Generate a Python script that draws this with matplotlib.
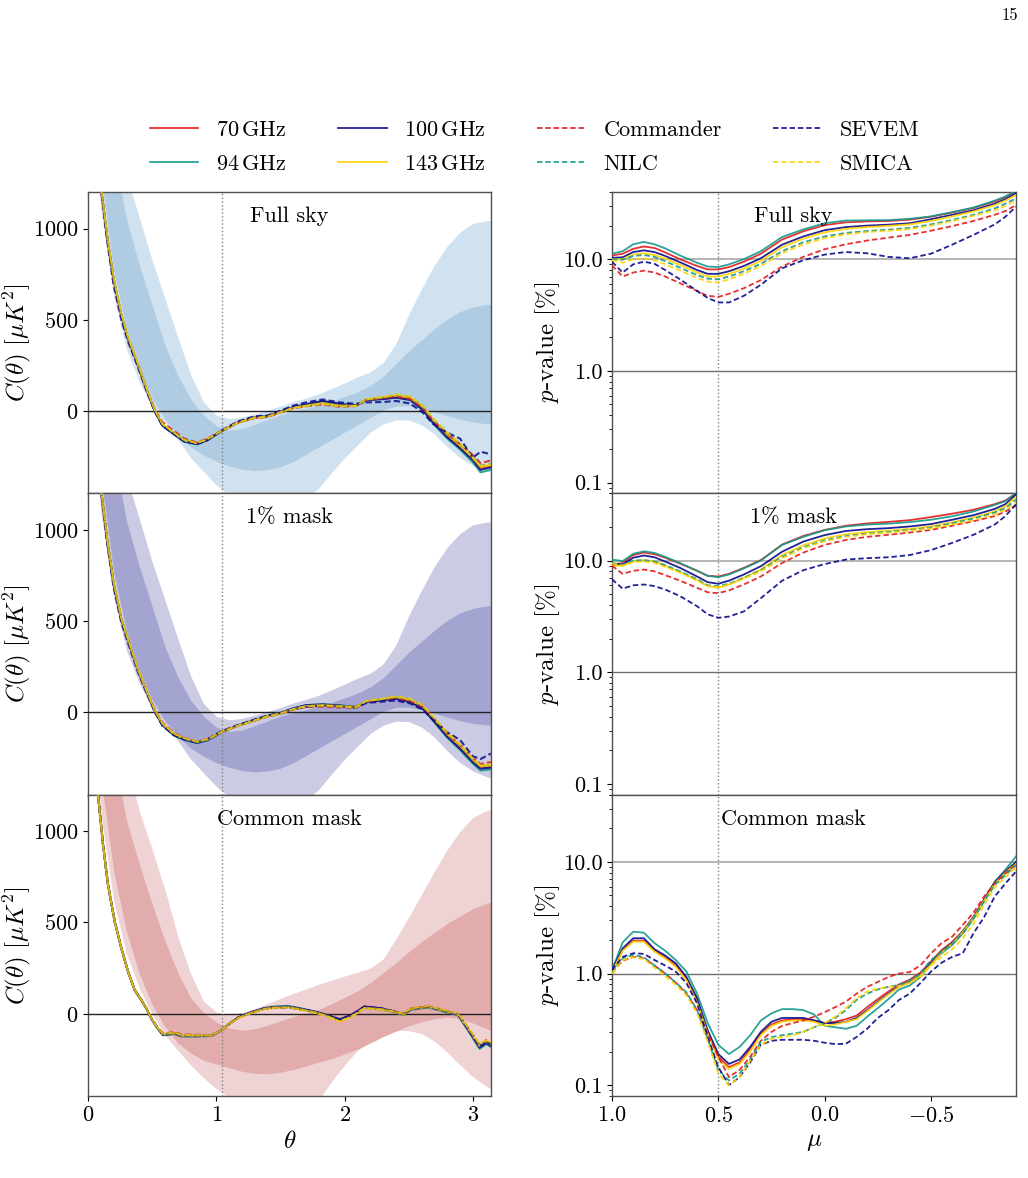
import numpy as np
import matplotlib
matplotlib.use("Agg")
import matplotlib.pyplot as plt
from matplotlib.ticker import FixedLocator, FuncFormatter, NullFormatter, LogLocator

plt.rcParams['font.family'] = ['cmr10', 'DejaVu Serif']
plt.rcParams['mathtext.fontset'] = 'cm'
plt.rcParams['axes.formatter.use_mathtext'] = True
plt.rcParams['font.size'] = 16
plt.rcParams['axes.edgecolor'] = '#505050'
plt.rcParams['axes.linewidth'] = 1.0

# ---------------- labels / styles ----------------
MAPS = ['70', '94', '100', '143', 'Commander', 'NILC', 'SEVEM', 'SMICA']
LABELS = [r'$70\,\mathrm{GHz}$', r'$94\,\mathrm{GHz}$', r'$100\,\mathrm{GHz}$', r'$143\,\mathrm{GHz}$',
          'Commander', 'NILC', 'SEVEM', 'SMICA']
COLORS = ['#e31a1c', '#139a8c', '#0a0a8a', '#ffd200', '#e31a1c', '#139a8c', '#0a0a8a', '#ffd200']
STYLES = ['-', '-', '-', '-', '--', '--', '--', '--']
PANEL_NAMES = ['Full sky', '1% mask', 'Common mask']

# ---------------- theory bands (left) ----------------
TB = [0.0, 0.1, 0.2, 0.3, 0.4, 0.5, 0.6, 0.7, 0.8, 0.9, 1.0, 1.1, 1.2, 1.3, 1.4, 1.5, 1.6, 1.7,
      1.8, 1.9, 2.0, 2.1, 2.2, 2.3, 2.4, 2.5, 2.6, 2.7, 2.8, 2.9, 3.0, 3.1, 3.1416]

FS_OHI = [3000, 2400, 1750, 1290, 1060, 825, 615, 405, 200, 50, -22, -40, -32, -14, 6, 28, 52, 72,
          95, 125, 155, 188, 215, 265, 370, 530, 670, 800, 905, 980, 1028, 1042, 1045]
FS_IHI = [2600, 1900, 1420, 1050, 800, 580, 360, 195, 68, -20, -80, -104, -96, -72, -46, -20, 0, 15,
          35, 55, 80, 105, 140, 190, 260, 330, 390, 450, 505, 545, 570, 583, 585]
FS_ILO = [2100, 1300, 770, 450, 230, 70, -45, -130, -195, -240, -275, -300, -318, -326, -320, -305,
          -275, -235, -195, -155, -115, -75, -35, 5, 28, 30, 15, -5, -25, -45, -60, -68, -70]
FS_OLO = [1900, 1100, 630, 340, 160, 20, -65, -155, -255, -330, -405, -465, -510, -545, -560, -550,
          -520, -480, -420, -335, -255, -185, -115, -70, -48, -48, -75, -125, -195, -255, -297, -320, -326]

M1_OHI = [3000, 2400, 1750, 1290, 1060, 825, 615, 405, 200, 50, -22, -40, -32, -14, 6, 28, 52, 72,
          95, 125, 155, 188, 215, 265, 370, 530, 670, 800, 905, 980, 1028, 1042, 1045]
M1_IHI = [2600, 1900, 1420, 1050, 800, 580, 360, 195, 68, -20, -80, -104, -96, -72, -46, -20, 0, 15,
          35, 55, 80, 105, 140, 190, 260, 330, 390, 450, 505, 545, 570, 583, 585]
M1_ILO = [2100, 1300, 770, 450, 230, 70, -45, -130, -195, -240, -275, -300, -318, -326, -320, -305,
          -275, -235, -195, -155, -115, -75, -35, 5, 28, 30, 15, -5, -25, -45, -60, -68, -70]
M1_OLO = [1900, 1100, 630, 340, 160, 20, -65, -155, -255, -330, -405, -465, -510, -545, -560, -550,
          -520, -480, -420, -335, -255, -185, -115, -70, -48, -50, -80, -135, -210, -275, -320, -350, -360]

CM_OHI = [3000, 2300, 1750, 1380, 1110, 900, 680, 425, 220, 70, 10, -4, 8, 29, 55, 85, 112, 137,
          163, 185, 207, 228, 250, 300, 410, 530, 655, 780, 900, 1000, 1075, 1110, 1120]
CM_IHI = [2600, 1900, 1430, 1060, 820, 600, 400, 225, 88, 8, -45, -78, -90, -82, -62, -38, -15, 5,
          25, 55, 90, 125, 170, 225, 280, 340, 395, 445, 495, 535, 575, 603, 612]
CM_ILO = [2100, 1300, 780, 450, 220, 50, -70, -160, -215, -255, -275, -295, -315, -326, -328, -320,
          -305, -285, -265, -245, -220, -195, -160, -125, -95, -65, -44, -28, -18, -25, -50, -80, -90]
CM_OLO = [1900, 1100, 620, 330, 140, 0, -117, -200, -280, -350, -410, -460, -520, -560, -580, -580,
          -560, -520, -470, -370, -280, -200, -145, -105, -90, -92, -108, -150, -210, -280, -345, -395, -410]

# ---------------- observed C(theta) ----------------
TH = [0.05, 0.10, 0.15, 0.20, 0.26, 0.31, 0.39, 0.45, 0.52, 0.58, 0.67, 0.75, 0.85, 0.93, 1.05, 1.17,
      1.30, 1.40, 1.50, 1.60, 1.70, 1.83, 1.96, 2.09, 2.17, 2.30, 2.40, 2.51, 2.61, 2.69, 2.80, 2.90,
      3.00, 3.06, 3.14]

FS_70 = [1700, 1230, 950, 720, 525, 400, 250, 130, 4, -75, -122, -162, -178, -155, -106, -62, -35, -30,
         -5, 20, 32, 48, 32, 30, 62, 70, 80, 68, 15, -55, -135, -195, -262, -312, -300]
FS_94 = [1700, 1230, 950, 720, 525, 400, 250, 130, 0, -80, -128, -168, -182, -158, -106, -60, -33, -28,
         -2, 22, 36, 52, 36, 30, 62, 68, 76, 62, 5, -68, -150, -210, -280, -335, -322]
FS_100 = [1700, 1230, 950, 720, 525, 400, 250, 130, 2, -78, -125, -165, -180, -160, -106, -62, -35, -28,
          -2, 22, 38, 56, 40, 32, 60, 66, 74, 62, 8, -62, -142, -202, -268, -322, -308]
FS_143 = [1700, 1230, 955, 725, 530, 405, 255, 132, 6, -72, -120, -160, -176, -154, -105, -62, -36, -30,
          -6, 18, 30, 44, 30, 30, 64, 74, 86, 74, 22, -48, -128, -188, -255, -305, -295]
FS_COM = [1700, 1230, 950, 720, 525, 400, 250, 130, 12, -60, -108, -150, -172, -150, -104, -62, -38, -32,
          -8, 16, 26, 36, 24, 28, 62, 72, 80, 66, 18, -50, -125, -180, -240, -285, -270]
FS_NILC = [1700, 1230, 955, 725, 530, 405, 255, 135, 8, -70, -118, -158, -175, -153, -104, -61, -36, -30,
           -6, 18, 28, 40, 26, 28, 64, 76, 90, 80, 28, -42, -120, -178, -250, -298, -288]
FS_SEVEM = [1700, 1220, 930, 690, 500, 385, 240, 122, -2, -80, -125, -165, -180, -158, -102, -56, -28, -24,
            2, 30, 48, 64, 48, 40, 48, 50, 56, 42, -8, -70, -118, -150, -255, -222, -236]
FS_SMICA = [1700, 1235, 958, 728, 532, 408, 258, 135, 8, -70, -118, -158, -175, -153, -104, -62, -36, -30,
            -6, 18, 28, 40, 26, 28, 65, 78, 92, 82, 30, -40, -118, -176, -255, -300, -290]

M1_70 = [1700, 1230, 940, 705, 509, 400, 230, 125, 10, -65, -121, -145, -164, -150, -105, -72, -42, -20,
         -5, 20, 37, 42, 37, 30, 60, 70, 79, 62, 28, -35, -125, -190, -265, -300, -297]
M1_94 = [1700, 1230, 940, 705, 509, 400, 230, 125, 6, -70, -126, -150, -168, -152, -105, -70, -40, -18,
         -2, 23, 40, 45, 39, 30, 60, 68, 76, 58, 20, -45, -138, -205, -280, -318, -312]
M1_100 = [1700, 1230, 940, 705, 509, 400, 230, 125, 8, -68, -124, -148, -166, -152, -105, -72, -42, -20,
          -4, 22, 40, 44, 38, 30, 58, 67, 75, 58, 22, -42, -132, -198, -272, -308, -302]
M1_143 = [1700, 1232, 945, 710, 512, 402, 233, 127, 12, -63, -119, -143, -162, -148, -104, -72, -43, -21,
          -6, 18, 35, 40, 35, 30, 62, 73, 84, 68, 34, -28, -118, -182, -258, -295, -290]
M1_COM = [1700, 1230, 940, 705, 509, 400, 232, 128, 16, -56, -112, -138, -160, -146, -104, -72, -44, -22,
          -8, 16, 30, 32, 28, 26, 60, 72, 80, 62, 30, -30, -115, -178, -250, -282, -272]
M1_NILC = [1700, 1232, 945, 710, 512, 402, 233, 128, 12, -62, -118, -142, -161, -147, -104, -72, -43, -21,
           -6, 18, 33, 38, 33, 28, 62, 74, 86, 72, 38, -24, -112, -178, -255, -292, -285]
M1_SEVEM = [1700, 1220, 925, 685, 492, 385, 220, 118, 4, -72, -124, -145, -163, -146, -100, -68, -38, -17,
            -3, 18, 30, 38, 33, 27, 52, 60, 66, 50, 15, -40, -108, -150, -240, -255, -225]
M1_SMICA = [1700, 1235, 948, 712, 514, 404, 235, 130, 14, -60, -116, -140, -160, -146, -104, -72, -43, -21,
            -6, 18, 33, 38, 33, 28, 63, 76, 88, 75, 40, -22, -110, -175, -252, -290, -283]

TH_CM = [0.04, 0.078, 0.117, 0.156, 0.208, 0.26, 0.312, 0.364, 0.416, 0.455, 0.494, 0.546, 0.585, 0.675,
         0.727, 0.831, 0.961, 1.04, 1.09, 1.17, 1.273, 1.377, 1.455, 1.559, 1.637, 1.767, 1.871, 1.962,
         2.052, 2.156, 2.286, 2.39, 2.455, 2.52, 2.65, 2.754, 2.884, 2.962, 3.053, 3.105, 3.1416]

CM_70 = [1700, 1201, 926, 707, 505, 359, 231, 130, 75, 29, -26, -81, -114, -108, -121, -121, -121, -90,
         -62, -22, 7, 29, 35, 38, 29, 11, -11, -35, -11, 35, 26, 11, -4, 26, 38, 20, -4, -81, -181, -154, -172]
CM_94 = [1700, 1201, 926, 707, 505, 359, 231, 130, 75, 29, -28, -85, -118, -110, -124, -124, -122, -90,
         -62, -20, 9, 32, 40, 43, 33, 13, -10, -33, -11, 33, 24, 9, -7, 22, 34, 16, -8, -90, -192, -166, -182]
CM_100 = [1700, 1201, 926, 707, 505, 359, 231, 130, 75, 29, -27, -83, -116, -109, -122, -122, -121, -90,
          -61, -20, 9, 31, 37, 40, 31, 12, -8, -30, -6, 40, 30, 13, -3, 26, 38, 20, -5, -86, -185, -160, -176]
CM_143 = [1700, 1201, 926, 707, 505, 359, 231, 130, 75, 29, -26, -81, -113, -107, -120, -120, -120, -90,
          -62, -23, 5, 27, 33, 36, 27, 8, -14, -40, -15, 33, 24, 10, -5, 26, 38, 20, -4, -80, -176, -150, -168]
CM_COM = [1700, 1201, 926, 707, 505, 359, 231, 130, 75, 30, -24, -78, -108, -100, -113, -115, -117, -88,
          -60, -21, 7, 29, 35, 37, 28, 11, -11, -34, -10, 35, 27, 13, 0, 30, 42, 24, 0, -76, -170, -143, -160]
CM_NILC = [1700, 1201, 926, 707, 505, 359, 231, 130, 75, 30, -25, -80, -111, -104, -117, -118, -119, -89,
           -61, -22, 6, 28, 34, 37, 28, 10, -12, -36, -12, 34, 26, 12, -2, 28, 40, 22, -2, -78, -172, -146, -163]
CM_SEVEM = [1700, 1201, 926, 707, 505, 359, 231, 130, 75, 29, -26, -81, -112, -105, -118, -118, -119, -89,
            -61, -21, 7, 29, 34, 35, 27, 10, -9, -32, -8, 40, 30, 12, -3, 27, 39, 21, -3, -80, -178, -150, -166]
CM_SMICA = [1700, 1201, 926, 707, 505, 359, 231, 130, 75, 30, -25, -80, -110, -103, -116, -117, -118, -89,
            -61, -23, 5, 27, 33, 35, 26, 8, -14, -42, -16, 32, 25, 12, 0, 30, 42, 24, 1, -74, -168, -140, -158]

# ---------------- p-values (right) ----------------
MU_S = [1.0, 0.95, 0.9, 0.85, 0.8, 0.75, 0.68, 0.6, 0.55, 0.5, 0.45, 0.38, 0.3, 0.2, 0.1, 0.0, -0.1,
        -0.2, -0.3, -0.4, -0.5, -0.6, -0.7, -0.8, -0.85, -0.9]

PF_70 = [10.8, 11.2, 12.4, 13.0, 12.6, 11.5, 10.0, 8.7, 8.1, 8.1, 8.5, 9.5, 11.2, 15.0, 17.8, 20.2, 21.4,
         21.8, 22.0, 22.6, 24.0, 26.2, 28.8, 33.0, 36.0, 40.5]
PF_94 = [11.2, 11.8, 13.6, 14.3, 13.6, 12.5, 10.8, 9.3, 8.6, 8.5, 9.0, 10.0, 11.8, 15.8, 18.5, 21.0, 22.2,
         22.3, 22.4, 23.0, 24.2, 26.4, 29.0, 33.5, 36.5, 41.0]
PF_100 = [10.3, 10.4, 11.6, 12.0, 11.6, 10.7, 9.4, 8.0, 7.4, 7.4, 7.8, 8.7, 10.2, 13.5, 16.0, 18.2, 19.4,
          20.0, 20.4, 21.0, 22.8, 25.0, 27.5, 31.5, 34.5, 39.0]
PF_143 = [10.0, 10.0, 11.0, 11.3, 10.9, 10.1, 8.9, 7.6, 7.0, 7.0, 7.4, 8.2, 9.7, 12.8, 15.3, 17.4, 18.7,
          19.4, 19.9, 20.5, 22.0, 24.2, 26.8, 30.5, 33.5, 37.5]
PF_COM = [8.8, 7.0, 7.6, 7.9, 7.6, 7.0, 6.1, 5.2, 4.7, 4.6, 4.9, 5.5, 6.5, 8.6, 10.5, 12.3, 13.6, 14.7,
          15.6, 16.5, 18.0, 19.8, 22.0, 25.0, 27.0, 30.5]
PF_NILC = [10.0, 9.9, 10.7, 10.9, 10.5, 9.6, 8.4, 7.2, 6.7, 6.6, 7.0, 7.8, 9.1, 11.8, 14.2, 16.0, 17.2,
           17.9, 18.4, 19.1, 20.5, 22.5, 25.0, 28.5, 31.5, 35.0]
PF_SEVEM = [9.5, 7.6, 9.0, 9.5, 9.1, 8.0, 6.6, 5.2, 4.5, 4.1, 4.1, 4.7, 5.9, 8.3, 9.8, 11.0, 11.6, 11.3,
            10.5, 10.2, 11.2, 13.5, 16.5, 20.5, 24.0, 29.5]
PF_SMICA = [9.8, 9.3, 10.0, 10.2, 9.8, 9.0, 7.9, 6.8, 6.3, 6.2, 6.6, 7.4, 8.7, 11.3, 13.6, 15.4, 16.7,
            17.5, 18.0, 18.6, 20.0, 22.0, 24.5, 27.5, 30.0, 33.5]

P1_70 = [9.2, 9.5, 11.2, 11.8, 11.4, 10.6, 9.4, 8.1, 7.3, 7.2, 7.6, 8.6, 10.1, 13.9, 16.6, 18.8, 20.5,
         21.5, 22.2, 23.0, 24.5, 26.3, 28.5, 32.0, 34.5, 40.0]
P1_94 = [10.2, 9.9, 11.5, 12.1, 11.7, 10.8, 9.5, 8.1, 7.3, 7.1, 7.5, 8.5, 10.0, 13.8, 16.3, 18.7, 20.2,
         21.0, 21.4, 22.1, 23.2, 24.9, 27.5, 31.5, 34.0, 40.0]
P1_100 = [9.3, 9.2, 10.6, 11.1, 10.7, 9.8, 8.6, 7.2, 6.4, 6.2, 6.6, 7.5, 8.9, 12.0, 14.8, 16.9, 18.4,
          19.1, 19.5, 20.2, 21.2, 23.2, 25.5, 29.0, 32.0, 39.0]
P1_143 = [9.0, 9.0, 9.8, 10.1, 9.8, 9.0, 7.9, 6.7, 5.9, 5.7, 6.1, 7.0, 8.3, 11.2, 13.7, 15.8, 17.2, 18.0,
          18.5, 19.2, 20.2, 22.0, 24.3, 27.5, 30.5, 37.0]
P1_COM = [9.0, 7.6, 8.1, 8.3, 8.0, 7.4, 6.6, 5.7, 5.2, 5.1, 5.4, 6.1, 7.2, 9.5, 11.8, 13.8, 15.3, 16.3,
          17.0, 17.8, 18.8, 20.5, 22.5, 25.0, 27.5, 31.0]
P1_NILC = [9.5, 9.2, 10.0, 10.1, 9.8, 9.1, 8.0, 6.8, 6.0, 5.9, 6.2, 7.0, 8.2, 10.8, 13.2, 15.2, 16.6, 17.5,
           18.1, 18.8, 19.8, 21.6, 23.8, 27.0, 29.5, 35.0]
P1_SEVEM = [6.8, 5.6, 6.0, 6.1, 5.9, 5.5, 4.8, 3.9, 3.3, 3.07, 3.15, 3.5, 4.6, 6.6, 8.2, 9.3, 10.2, 10.5,
            10.7, 11.2, 12.4, 14.4, 17.0, 21.0, 25.0, 32.0]
P1_SMICA = [9.4, 9.0, 9.7, 9.8, 9.5, 8.8, 7.8, 6.6, 5.9, 5.8, 6.1, 6.9, 8.0, 10.5, 12.9, 14.9, 16.3, 17.2,
            17.8, 18.5, 19.4, 21.0, 23.0, 26.0, 28.5, 33.0]

MU_C = [1.0, 0.95, 0.9, 0.85, 0.8, 0.75, 0.7, 0.65, 0.6, 0.55, 0.5, 0.45, 0.4, 0.35, 0.3, 0.25, 0.2,
        0.15, 0.1, 0.05, 0.0, -0.05, -0.1, -0.15, -0.2, -0.25, -0.3, -0.35, -0.4, -0.45, -0.5, -0.55,
        -0.6, -0.65, -0.7, -0.75, -0.8, -0.85, -0.9]

PC_70 = [1.05, 1.62, 1.97, 1.97, 1.6, 1.4, 1.18, 0.9, 0.57, 0.3, 0.18, 0.145, 0.16, 0.21, 0.29, 0.35, 0.38,
         0.39, 0.39, 0.38, 0.36, 0.37, 0.39, 0.42, 0.5, 0.59, 0.69, 0.8, 0.88, 1.02, 1.28, 1.62, 1.92, 2.4,
         3.2, 4.6, 6.5, 8.0, 9.8]
PC_94 = [1.07, 1.9, 2.37, 2.32, 1.87, 1.6, 1.32, 1.04, 0.66, 0.36, 0.23, 0.19, 0.22, 0.28, 0.38, 0.44, 0.48,
         0.48, 0.47, 0.43, 0.34, 0.33, 0.32, 0.34, 0.41, 0.49, 0.59, 0.72, 0.78, 0.93, 1.23, 1.52, 1.80, 2.29,
         3.1, 4.5, 6.6, 8.5, 11.2]
PC_100 = [1.07, 1.68, 2.07, 2.07, 1.65, 1.45, 1.23, 0.93, 0.6, 0.31, 0.19, 0.155, 0.17, 0.22, 0.30, 0.37,
          0.40, 0.40, 0.40, 0.38, 0.36, 0.36, 0.37, 0.40, 0.47, 0.56, 0.66, 0.77, 0.84, 0.97, 1.23, 1.57, 1.87,
          2.37, 3.2, 4.6, 6.6, 8.2, 10.0]
PC_143 = [1.03, 1.6, 1.93, 1.93, 1.57, 1.37, 1.15, 0.87, 0.55, 0.29, 0.17, 0.14, 0.155, 0.2, 0.28, 0.34,
          0.37, 0.38, 0.38, 0.37, 0.34, 0.35, 0.37, 0.39, 0.46, 0.55, 0.65, 0.76, 0.83, 0.96, 1.2, 1.55, 1.85,
          2.35, 3.15, 4.5, 6.4, 8.0, 9.6]
PC_COM = [1.02, 1.3, 1.41, 1.37, 1.18, 1.0, 0.83, 0.66, 0.47, 0.29, 0.18, 0.118, 0.137, 0.18, 0.25, 0.3,
          0.34, 0.36, 0.38, 0.41, 0.45, 0.5, 0.56, 0.66, 0.76, 0.84, 0.93, 1.0, 1.03, 1.18, 1.51, 1.87, 2.14,
          2.73, 3.5, 4.9, 6.4, 7.9, 9.4]
PC_NILC = [1.0, 1.37, 1.47, 1.4, 1.18, 1.0, 0.83, 0.68, 0.47, 0.26, 0.137, 0.11, 0.127, 0.17, 0.245, 0.27,
           0.28, 0.29, 0.3, 0.33, 0.36, 0.4, 0.47, 0.58, 0.66, 0.72, 0.76, 0.79, 0.87, 1.0, 1.32, 1.57, 1.84,
           2.29, 3.1, 4.4, 6.2, 7.6, 9.4]
PC_SEVEM = [1.07, 1.41, 1.52, 1.5, 1.32, 1.18, 1.04, 0.82, 0.54, 0.27, 0.145, 0.1, 0.118, 0.16, 0.23, 0.25,
            0.255, 0.255, 0.255, 0.25, 0.24, 0.233, 0.235, 0.27, 0.32, 0.4, 0.47, 0.58, 0.66, 0.82, 1.04,
            1.25, 1.41, 1.52, 2.29, 3.2, 4.9, 6.4, 8.2]
PC_SMICA = [1.0, 1.32, 1.4, 1.35, 1.13, 0.95, 0.79, 0.64, 0.44, 0.245, 0.127, 0.1, 0.118, 0.165, 0.23, 0.26,
            0.27, 0.28, 0.3, 0.33, 0.36, 0.41, 0.49, 0.6, 0.69, 0.73, 0.76, 0.77, 0.82, 0.93, 1.18, 1.41,
            1.65, 2.07, 2.8, 4.1, 5.9, 7.3, 8.9]

LEFT_PANELS = [
    (TH, [FS_70, FS_94, FS_100, FS_143, FS_COM, FS_NILC, FS_SEVEM, FS_SMICA],
     (FS_OLO, FS_OHI, FS_ILO, FS_IHI), ('#d0e2f0', '#afcce3')),
    (TH, [M1_70, M1_94, M1_100, M1_143, M1_COM, M1_NILC, M1_SEVEM, M1_SMICA],
     (M1_OLO, M1_OHI, M1_ILO, M1_IHI), ('#cbcce3', '#a3a4d0')),
    (TH_CM, [CM_70, CM_94, CM_100, CM_143, CM_COM, CM_NILC, CM_SEVEM, CM_SMICA],
     (CM_OLO, CM_OHI, CM_ILO, CM_IHI), ('#efd3d4', '#e2acad')),
]
RIGHT_PANELS = [
    (MU_S, [PF_70, PF_94, PF_100, PF_143, PF_COM, PF_NILC, PF_SEVEM, PF_SMICA]),
    (MU_S, [P1_70, P1_94, P1_100, P1_143, P1_COM, P1_NILC, P1_SEVEM, P1_SMICA]),
    (MU_C, [PC_70, PC_94, PC_100, PC_143, PC_COM, PC_NILC, PC_SEVEM, PC_SMICA]),
]

# ---------------- figure ----------------
W, H = 1028, 1178
fig = plt.figure(figsize=(W / 100, H / 100), dpi=100)
row_h = 301.33 / H
tops_px = [192, 192 + 301.33, 192 + 2 * 301.33]

handles = []
for r in range(3):
    bottom = 1 - (tops_px[r] + 301.33) / H
    axl = fig.add_axes([88 / W, bottom, 403 / W, row_h])
    axr = fig.add_axes([612 / W, bottom, 404 / W, row_h])

    # ---- left ----
    th, curves, (olo, ohi, ilo, ihi), (c_out, c_in) = LEFT_PANELS[r]
    axl.fill_between(TB, olo, ohi, color=c_out, lw=0, zorder=1)
    axl.fill_between(TB, ilo, ihi, color=c_in, lw=0, zorder=2)
    axl.axhline(0, color='#222222', lw=1.0, zorder=3)
    axl.axvline(np.pi / 3, color='#808080', lw=1.0, ls=':', zorder=3)
    for k, y in enumerate(curves):
        axl.plot(th, y, color=COLORS[k], ls=STYLES[k], lw=1.5, alpha=0.85, zorder=4,
                 dashes=(3, 1.5) if STYLES[k] == '--' else (None, None))
    axl.set_xlim(0, np.pi)
    axl.set_ylim(-450, 1200)
    axl.set_yticks([0, 500, 1000])
    axl.set_xticks([0, 1, 2, 3])
    axl.set_ylabel(r'$C(\theta)\ [\mu K^2]$', fontsize=18)
    axl.yaxis.set_label_coords(-0.137, 0.5)
    axl.text(0.5, 0.92, PANEL_NAMES[r], transform=axl.transAxes, ha='center', va='center', fontsize=16)
    axl.tick_params(labelsize=16)
    if r < 2:
        axl.tick_params(labelbottom=False)
    else:
        axl.set_xlabel(r'$\theta$', fontsize=18)

    # ---- right ----
    mu, pcurves = RIGHT_PANELS[r]
    axr.set_yscale('log')
    axr.axhline(10, color='#b4b4b4', lw=1.4, zorder=1)
    axr.axhline(1, color='#707070', lw=1.0, zorder=1)
    axr.axvline(0.5, color='#808080', lw=1.0, ls=':', zorder=1)
    for k, y in enumerate(pcurves):
        ln, = axr.plot(mu, y, color=COLORS[k], ls=STYLES[k], lw=1.3, alpha=0.9, zorder=3,
                       dashes=(3, 1.6) if STYLES[k] == '--' else (None, None))
        if r == 0:
            handles.append(ln)
    axr.set_xlim(1.0, -0.9)
    axr.set_ylim(0.08, 40)
    axr.yaxis.set_major_locator(FixedLocator([0.1, 1.0, 10.0]))
    axr.yaxis.set_major_formatter(FuncFormatter(lambda v, p: f'{v:.1f}'))
    axr.yaxis.set_minor_locator(LogLocator(base=10, subs=np.arange(2, 10)))
    axr.yaxis.set_minor_formatter(NullFormatter())
    axr.set_xticks([1.0, 0.5, 0.0, -0.5])
    axr.set_ylabel(r'$p$-value [%]', fontsize=18)
    axr.yaxis.set_label_coords(-0.124, 0.5)
    axr.text(0.448, 0.92, PANEL_NAMES[r], transform=axr.transAxes, ha='center', va='center', fontsize=16)
    axr.tick_params(labelsize=16)
    if r < 2:
        axr.tick_params(labelbottom=False)
    else:
        axr.set_xlabel(r'$\mu$', fontsize=18)

fig.legend(handles, LABELS, loc='center', bbox_to_anchor=(0.52, 1 - 147 / H), ncol=4, frameon=False,
           fontsize=16, handlelength=2.2, columnspacing=2.3, labelspacing=0.65)
fig.text(1010 / W, 1 - 15 / H, '15', ha='center', va='center', fontsize=12)

fig.savefig('out.png', dpi=100)
